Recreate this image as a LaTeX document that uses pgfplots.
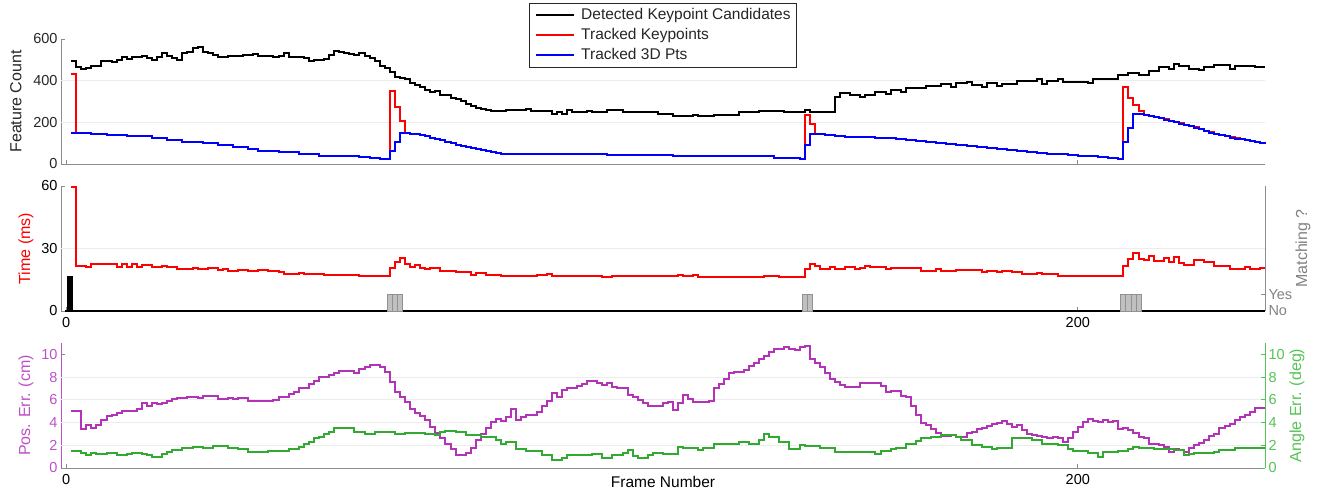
\documentclass[border=0pt]{standalone}
\usepackage{pgfplots}
\pgfplotsset{compat=1.18}
\usepackage{fontspec}
\setmainfont{Liberation Sans}

\definecolor{axgray}{RGB}{140,140,140}
\definecolor{txtdark}{RGB}{38,38,38}
\definecolor{gridgray}{RGB}{236,236,236}
\definecolor{purp}{RGB}{178,50,184}
\definecolor{purptxt}{RGB}{190,80,200}
\definecolor{grn}{RGB}{50,170,50}
\definecolor{grntxt}{RGB}{85,195,85}
\definecolor{bargray}{RGB}{192,192,192}
\definecolor{baredge}{RGB}{145,145,145}
\definecolor{matchgray}{RGB}{130,130,130}

\newcommand{\tickfont}{\fontsize{14.5}{17}\selectfont}
\newcommand{\labfont}{\fontsize{16}{19}\selectfont}

\pgfplotsset{
  panel/.style={
    scale only axis, width=1204pt, height=125pt,
    xmin=-1, xmax=237,
    axis line style={-, axgray, line width=0.7pt},
    tick style={axgray, line width=0.7pt},
    major tick length=4pt,
    tick align=inside,
    xtick={0,200},
    /pgf/number format/assume math mode=true,
    tick label style={font=\tickfont},
    label style={font=\labfont},
    grid style={gridgray, line width=0.8pt},
    clip=false,
  },
  leftpanel/.style={panel, axis x line*=bottom, axis y line*=left},
  rightpanel/.style={panel, axis x line=none, axis y line*=right},
  stair/.style={const plot, line width=2pt, mark=none},
}

\begin{document}
\begin{tikzpicture}
% ================= TOP PANEL =================
\begin{axis}[leftpanel, at={(61pt,326pt)}, anchor=south west,
  ymin=0, ymax=600, ytick={0,200,400,600}, xticklabels={},
  yticklabel style={text=txtdark},
  extra y ticks={200,400}, extra y tick labels={},
  extra y tick style={grid=major, tick style={draw=none}},
  ylabel={Feature Count},
  ylabel style={at={(axis description cs:-0.03738,0.5)}, anchor=center, text=txtdark},
  legend style={at={(axis description cs:0.5,1)}, anchor=north, yshift=36pt,
    draw=txtdark, line width=0.7pt, fill=white,
    font=\fontsize{15.5}{18}\selectfont, text=txtdark,
    inner xsep=6pt, inner ysep=5pt, row sep=6pt, column sep=6pt,
    nodes={inner sep=0pt, text height=11pt, text depth=3pt},
    cells={anchor=west}},
  legend image code/.code={\draw[#1, line width=1.8pt] (0pt,0pt) -- (38pt,0pt);},
]
\addplot[stair, black] coordinates {
(1,494) (2,467) (3,454) (4,462) (5,472) (7,493) (9,490) (10,498) (11,512) (12,502)
(13,515) (15,518) (16,509) (17,499) (18,515) (19,534) (20,518) (21,507) (22,498)
(23,531) (24,539) (25,558) (26,563) (27,539) (28,531) (29,523) (30,515) (32,520)
(34,516) (35,524) (37,528) (38,520) (39,518) (41,515) (42,520) (43,534) (44,512)
(46,515) (47,510) (48,496) (49,501) (51,505) (52,523) (53,543) (54,539) (55,531)
(56,527) (57,523) (58,531) (59,518) (60,507) (61,493) (62,472) (63,461) (64,442)
(65,418) (66,413) (67,410) (68,390) (69,379) (70,368) (71,355) (72,347) (73,352)
(74,333) (75,330) (76,318) (77,310) (78,300) (79,290) (80,278) (81,268) (82,266)
(83,258) (84,256) (87,259) (91,264) (92,256) (96,240) (97,250) (98,240) (99,259)
(100,248) (103,252) (104,248) (107,259) (110,248) (117,240) (120,232) (124,236)
(125,232) (128,236) (133,248) (137,256) (142,248) (146,259) (147,248) (152,320)
(153,340) (155,330) (157,323) (158,331) (160,347) (162,336) (163,355) (165,347)
(166,363) (170,374) (173,382) (175,370) (176,390) (178,394) (179,378) (181,368)
(182,390) (184,374) (185,384) (188,398) (192,406) (193,386) (194,398) (196,406)
(197,394) (202,390) (203,406) (206,410) (208,426) (210,437) (212,426) (214,446)
(216,466) (218,458) (219,479) (220,470) (222,454) (224,451) (225,466) (227,474)
(230,458) (231,470) (235,466) (237,466)};
\addlegendentry{Detected Keypoint Candidates}
\addplot[stair, red] coordinates {
(1,430) (2,150) (5,146) (8,140) (12,135) (17,127) (20,115) (23,104) (27,100) (30,92)
(33,82) (36,72) (38,64) (42,57) (46,46) (50,40) (54,36) (58,32) (60,28) (62,22)
(64,352) (65,274) (66,208) (67,150) (68,145) (69,142) (70,139) (71,133) (72,127)
(73,121) (74,115) (75,107) (76,99) (77,92) (78,86) (79,80) (80,75) (81,70) (82,65)
(83,60) (84,56) (85,52) (86,49) (87,48) (100,46) (107,43) (120,40)
(133,36) (140,30) (145,22) (146,235) (147,192) (148,144) (150,139) (152,135) (154,131)
(157,128) (160,126) (162,123) (164,119) (166,115) (168,111) (170,107) (172,102)
(174,97) (176,92) (178,87) (180,82) (182,76) (184,70) (186,66) (188,62) (190,58)
(192,54) (194,50) (196,47) (198,43) (200,40) (202,37) (204,34) (206,31) (207,29)
(208,26) (209,368) (210,315) (211,282) (212,254) (213,237) (214,231) (215,226)
(216,220) (217,214) (218,208) (219,202) (220,195) (221,188) (222,182) (223,176)
(224,167) (225,159) (226,152) (227,146) (228,139) (229,133) (230,128) (231,123)
(232,119) (233,115) (234,111) (235,107) (236,103) (237,100)};
\addlegendentry{Tracked Keypoints}
\addplot[stair, blue] coordinates {
(1,150) (5,146) (8,140) (12,135) (17,127) (20,115) (23,104) (27,100) (30,92)
(33,82) (36,72) (38,64) (42,57) (46,46) (50,40) (54,36) (58,32) (60,28) (62,22)
(64,64) (65,104) (66,150) (67,148) (68,145) (69,142) (70,139) (71,133) (72,127)
(73,121) (74,115) (75,107) (76,99) (77,92) (78,86) (79,80) (80,75) (81,70) (82,65)
(83,60) (84,56) (85,52) (86,49) (87,48) (100,46) (107,43) (120,40)
(133,36) (140,30) (145,22) (146,91) (147,144) (150,139) (152,135) (154,131)
(157,128) (160,126) (162,123) (164,119) (166,115) (168,111) (170,107) (172,102)
(174,97) (176,92) (178,87) (180,82) (182,76) (184,70) (186,66) (188,62) (190,58)
(192,54) (194,50) (196,47) (198,43) (200,40) (202,37) (204,34) (206,31) (207,29)
(208,26) (209,104) (210,172) (211,240) (212,238) (213,235) (214,230) (215,225)
(216,219) (217,213) (218,207) (219,201) (220,194) (221,187) (222,181) (223,175)
(224,166) (225,158) (226,151) (227,145) (228,138) (229,132) (230,127) (231,122)
(232,118) (233,114) (234,110) (235,106) (236,102) (237,99)};
\addlegendentry{Tracked 3D Pts}
\end{axis}

% ================= MIDDLE PANEL =================
\begin{axis}[leftpanel, at={(61pt,179pt)}, anchor=south west,
  ymin=0, ymax=60, ytick={0,30,60},
  extra y ticks={30}, extra y tick labels={},
  extra y tick style={grid=major, tick style={draw=none}},
  ylabel={Time (ms)},
  ylabel style={at={(axis description cs:-0.02907,0.5)}, anchor=center, text=red},
  xticklabel style={yshift=-3pt},
]
\addplot[stair, red] coordinates {
(1,59.4) (2,21.6) (4,21.3) (5,22.4) (7,22.6) (10,21.3) (11,22.4) (12,21.3) (13,22.4)
(14,21.3) (15,22.2) (17,21) (19,21.8) (20,21.3) (22,20.1) (25,20.6) (26,20) (28,20.6)
(30,19.5) (31,20.1) (32,19.2) (34,19.5) (36,19.2) (38,19.5) (40,19) (42,18.5)
(43,17.9) (46,18.2) (47,17.8) (49,17.9) (51,17.4) (57,17.1) (58,17) (61,16.8)
(63,16.6) (64,20.6) (65,23.5) (66,25.6) (67,22.6) (68,21.3) (69,22.2) (70,20.6)
(71,20.2) (72,20.8) (74,19.3) (77,18.8) (80,17.5) (81,18.2) (83,17.5) (86,17)
(88,16.6) (93,17.5) (95,18) (96,17) (100,16.6) (103,17) (106,16.5) (108,17)
(113,16.6) (114,17) (115,16.6) (121,17.5) (122,16.6) (124,17.2) (125,16.5)
(132,16.2) (138,16.6) (141,16.1) (146,20.3) (147,22.7) (148,21.5) (149,20.2)
(151,21.1) (152,20.2) (154,21.1) (156,20.2) (157,20.5) (158,21.8) (159,21.1)
(162,20.3) (163,20.6) (169,19.4) (172,20.3) (173,19.2) (176,19.8) (181,18.7)
(182,19.2) (184,18.5) (185,19) (187,18.5) (189,17.8) (192,18.2) (193,17.8)
(196,17) (200,16.6) (203,17) (204,16.6) (209,21.5) (210,25.2) (211,27.7)
(212,25.2) (213,24.4) (214,26.2) (215,24.1) (217,25.6) (218,23.7) (219,25.9)
(220,23.2) (221,22.2) (223,24.4) (225,23.7) (227,21.6) (229,21.8) (230,20.3)
(233,21.1) (234,20.2) (236,20.6) (237,20.6)};
\end{axis}
\begin{axis}[rightpanel, at={(61pt,179pt)}, anchor=south west,
  ymin=0, ymax=7.5, ytick={0,1}, yticklabels={No,Yes},
  yticklabel style={text=matchgray},
  ylabel={Matching ?},
  ylabel style={at={(axis description cs:1.03156,0.5)}, anchor=center, text=matchgray},
]
\addplot[black, line width=2.2pt, mark=none] coordinates {(-0.2,0) (237,0)};
\addplot[ybar, bar width=1, fill=black, draw=black, line width=0.5pt] coordinates {(0.82,2.1)};
\addplot[ybar, bar width=1, fill=bargray, draw=baredge, line width=0.8pt] coordinates {
(64,1) (65,1) (66,1) (146,1) (147,1) (209,1) (210,1) (211,1) (212,1)};
\end{axis}

% ================= BOTTOM PANEL =================
\begin{axis}[leftpanel, at={(61pt,22pt)}, anchor=south west,
  ymin=0, ymax=11, ytick={0,2,4,6,8,10},
  extra y ticks={2,4,6,8}, extra y tick labels={},
  extra y tick style={grid=major, tick style={draw=none}},
  y axis line style={purptxt},
  yticklabel style={text=purptxt},
  ylabel={Pos. Err. (cm)},
  ylabel style={at={(axis description cs:-0.02907,0.5)}, anchor=center, text=purptxt},
  xticklabel style={yshift=-3pt},
  xlabel={Frame Number},
  xlabel style={at={(axis description cs:0.5,0)}, anchor=north, inner sep=0pt, yshift=-8pt, font=\fontsize{15.5}{18}\selectfont},
]
\addplot[stair, purp] coordinates {
(1,5.0) (3,3.4) (4,3.8) (5,3.5) (6,3.8) (7,4.2) (8,4.6) (9,4.7) (10,4.85) (11,5.0)
(14,5.2) (15,5.7) (16,5.5) (17,5.7) (18,5.6) (19,5.7) (20,5.9) (21,6.05) (22,6.2)
(24,6.25) (26,6.2) (27,6.35) (30,6.1) (32,6.2) (33,6.05) (34,6.2) (36,5.9) (41,6.0)
(42,6.25) (44,6.55) (45,6.7) (46,7.0) (48,7.4) (49,7.7) (50,8.0) (52,8.2) (53,8.35)
(54,8.5) (57,8.4) (58,8.7) (59,8.9) (60,9.1) (62,8.9) (63,8.45) (64,7.6) (65,6.7)
(66,6.25) (67,5.8) (68,5.2) (69,4.8) (70,4.6) (71,4.2) (72,3.6) (73,3.1) (74,2.6)
(75,2.1) (76,1.7) (77,1.15) (79,1.35) (80,1.8) (81,2.45) (82,3.0) (83,3.55) (84,4.05)
(85,4.35) (86,4.15) (87,4.5) (88,5.2) (89,4.25) (90,4.45) (91,4.65) (93,4.95)
(94,5.5) (95,5.9) (96,6.6) (97,6.25) (98,6.9) (99,7.0) (101,7.2) (102,7.4) (103,7.7)
(104,7.65) (105,7.5) (106,7.3) (107,7.5) (108,7.1) (109,7.0) (111,6.4) (112,6.25)
(113,5.95) (114,5.7) (115,5.5) (116,5.45) (118,5.7) (119,5.8) (120,5.1) (121,5.7)
(122,6.4) (123,6.1) (124,5.8) (126,5.85) (127,5.9) (128,7.0) (129,7.4) (130,7.85)
(131,8.35) (132,8.45) (134,8.65) (135,8.95) (136,9.2) (137,9.55) (138,9.9)
(139,10.2) (140,10.5) (142,10.65) (143,10.5) (144,10.35) (145,10.65) (146,10.7)
(147,9.6) (148,9.2) (149,8.9) (150,8.35) (151,7.85) (152,7.6) (153,7.3) (154,7.15)
(157,7.45) (158,7.5) (160,7.45) (161,7.2) (162,6.7) (163,6.75) (165,6.3) (166,6.25)
(167,5.5) (168,4.65) (169,4.0) (170,3.8) (171,3.4) (172,3.05) (173,2.8) (175,2.9)
(176,2.7) (177,2.75) (178,3.05) (179,3.2) (180,3.4) (181,3.55) (182,3.7) (183,3.9)
(184,4.0) (185,4.15) (186,3.85) (187,3.6) (188,3.8) (189,3.35) (190,3.0) (191,2.9)
(192,2.8) (193,2.7) (194,2.6) (195,2.75) (196,2.6) (197,2.25) (198,2.6) (199,3.2)
(200,3.6) (201,4.05) (202,4.35) (203,4.15) (204,4.05) (205,4.2) (206,4.05)
(207,4.15) (208,3.4) (209,3.5) (210,3.35) (211,3.05) (212,2.75) (213,2.6)
(214,2.15) (216,2.0) (217,1.85) (218,1.4) (219,1.65) (220,1.6) (221,1.45)
(222,1.75) (223,2.0) (224,2.2) (225,2.45) (226,2.8) (227,3.0) (228,3.5) (229,3.7)
(230,3.9) (231,4.2) (232,4.5) (233,4.65) (234,4.95) (235,5.25) (237,5.3)};
\end{axis}
\begin{axis}[rightpanel, at={(61pt,22pt)}, anchor=south west,
  ymin=0, ymax=11, ytick={0,2,4,6,8,10},
  y axis line style={grntxt}, tick style={grntxt},
  yticklabel style={text=grntxt},
  ylabel={Angle Err. (deg)},
  ylabel style={at={(axis description cs:1.02658,0.5)}, anchor=center, text=grntxt},
]
\addplot[stair, grn] coordinates {
(1,1.5) (3,1.35) (4,1.15) (5,1.35) (6,1.25) (8,1.3) (10,1.1) (12,1.25) (13,1.35)
(15,1.25) (16,1.1) (17,1.0) (19,1.25) (20,1.45) (21,1.6) (23,1.75) (25,1.85)
(27,1.8) (29,1.9) (30,1.95) (32,1.8) (34,1.65) (36,1.45) (38,1.4) (40,1.5) (44,1.65)
(46,1.85) (47,2.15) (48,2.3) (49,2.6) (50,2.75) (51,2.95) (52,3.2) (53,3.5) (57,3.2)
(59,3.0) (61,3.15) (65,3.0) (67,3.05) (71,3.0) (73,2.9) (74,3.15) (75,3.25)
(77,3.15) (79,2.9) (82,2.75) (85,2.45) (86,2.15) (87,2.3) (89,1.7) (91,1.5)
(94,1.15) (96,0.7) (98,0.9) (99,1.1) (104,1.2) (106,0.85) (108,1.15) (110,1.35)
(111,1.6) (112,1.05) (113,0.9) (115,1.15) (116,1.35) (118,1.2) (121,1.85) (122,1.8)
(125,1.6) (126,1.8) (128,2.1) (131,2.15) (133,2.25) (135,2.1) (137,2.45) (138,3.0)
(139,2.75) (141,2.25) (143,1.7) (145,2.0) (146,1.95) (149,1.8) (152,1.4) (157,1.4)
(160,1.25) (161,1.5) (163,1.65) (164,1.8) (166,2.15) (168,2.4) (169,2.6) (171,2.75)
(173,2.9) (176,2.7) (177,2.45) (179,2.0) (181,1.85) (183,1.65) (184,1.8) (187,2.6)
(191,2.45) (193,2.1) (196,2.0) (198,1.7) (199,1.5) (202,1.35) (204,1.0) (205,1.45)
(208,1.5) (210,1.65) (211,1.85) (212,1.8) (215,1.7) (219,1.6) (221,1.15)
(222,1.25) (223,1.35) (225,1.3) (227,1.45) (228,1.6) (231,1.8) (237,1.8)};
\end{axis}

\pgfresetboundingbox
\path[use as bounding box] (0pt,0pt) rectangle (1320pt,490pt);
\end{tikzpicture}
\end{document}
